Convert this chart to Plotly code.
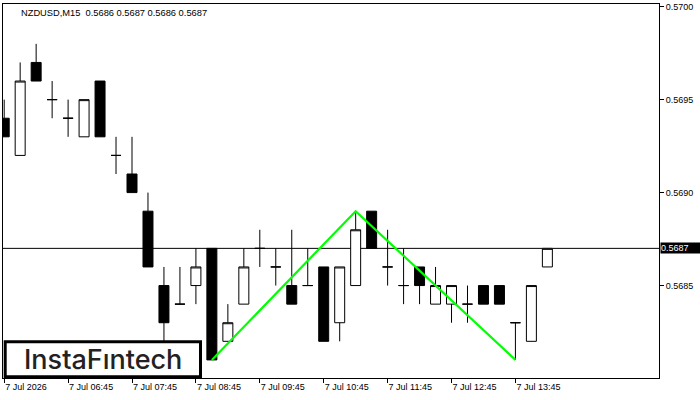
import plotly.graph_objects as go

# ---- data (NZDUSD, M15) ----
idx = list(range(35))
open_ = [0.5694, 0.5692, 0.5697, 0.5695, 0.5694, 0.5693, 0.5696, 0.5692, 0.5691, 0.5689,
         0.5685, 0.5684, 0.5685, 0.5687, 0.5682, 0.5684, 0.5687, 0.5686, 0.5685, 0.5685,
         0.5686, 0.5683, 0.5685, 0.5689, 0.5686, 0.5685, 0.5686, 0.5684, 0.5684, 0.5684,
         0.5685, 0.5685, 0.5683, 0.5682, 0.5686]
high = [0.5695, 0.5697, 0.5698, 0.5696, 0.5695, 0.5695, 0.5696, 0.5693, 0.5693, 0.5690,
        0.5686, 0.5686, 0.5687, 0.5687, 0.5684, 0.5687, 0.5688, 0.5687, 0.5688, 0.5687,
        0.5686, 0.5686, 0.5689, 0.5689, 0.5688, 0.5687, 0.5686, 0.5686, 0.5685, 0.5685,
        0.5685, 0.5685, 0.5683, 0.5685, 0.5687]
low = [0.5693, 0.5692, 0.5696, 0.5694, 0.5693, 0.5693, 0.5693, 0.5691, 0.5690, 0.5686,
       0.5682, 0.5684, 0.5684, 0.5681, 0.5682, 0.5684, 0.5686, 0.5685, 0.5684, 0.5685,
       0.5682, 0.5682, 0.5685, 0.5687, 0.5685, 0.5684, 0.5684, 0.5684, 0.5683, 0.5683,
       0.5684, 0.5684, 0.5681, 0.5682, 0.5686]
close = [0.5693, 0.5696, 0.5696, 0.5695, 0.5694, 0.5695, 0.5693, 0.5692, 0.5690, 0.5686,
         0.5683, 0.5684, 0.5686, 0.5681, 0.5683, 0.5686, 0.5687, 0.5686, 0.5684, 0.5685,
         0.5682, 0.5686, 0.5688, 0.5687, 0.5686, 0.5685, 0.5685, 0.5685, 0.5685, 0.5684,
         0.5684, 0.5684, 0.5683, 0.5685, 0.5687]

tick_idx = [0, 4, 8, 12, 16, 20, 24, 28, 32]
tick_labels = ["7 Jul 2026", "7 Jul 06:45", "7 Jul 07:45", "7 Jul 08:45", "7 Jul 09:45",
               "7 Jul 10:45", "7 Jul 11:45", "7 Jul 12:45", "7 Jul 13:45"]
price_ticks = [0.5685, 0.5690, 0.5695, 0.5700]
price_labels = ["0.5685", "0.5690", "0.5695", "0.5700"]

pattern_x = [13, 22, 32]
pattern_y = [0.5681, 0.5689, 0.5681]

last_price = 0.5687
title_text = "NZDUSD,M15  0.5686 0.5687 0.5686 0.5687"

W, H = 700, 400
ML, MR, MT, MB = 2, 41, 2, 22
PW, PH = W - ML - MR, H - MT - MB

FONT = "Liberation Sans"

fig = go.Figure()
fig.add_trace(go.Candlestick(
    x=idx, open=open_, high=high, low=low, close=close,
    increasing=dict(line=dict(color="black", width=1), fillcolor="white"),
    decreasing=dict(line=dict(color="black", width=1), fillcolor="black"),
    whiskerwidth=0, hoverinfo="skip", showlegend=False,
))
fig.add_trace(go.Scatter(
    x=pattern_x, y=pattern_y, mode="lines",
    line=dict(color="#00ff00", width=2.2), hoverinfo="skip", showlegend=False,
))

def px_x(p):
    return (p - ML) / PW

def px_y(p):
    return (H - MB - p) / PH

shapes = [
    dict(type="line", xref="paper", yref="y", x0=0, x1=1, y0=last_price, y1=last_price,
         line=dict(color="black", width=1), layer="below"),
    dict(type="rect", xref="paper", yref="paper",
         x0=px_x(4.2), x1=px_x(199.8), y0=px_y(376.8), y1=px_y(341.5),
         line=dict(color="black", width=3), fillcolor="white", layer="above"),
]

annotations = [
    dict(xref="paper", yref="paper", x=px_x(18), y=px_y(11), xanchor="left", yanchor="middle",
         text=title_text, showarrow=False, font=dict(family=FONT, size=9.3, color="black")),
    dict(xref="paper", yref="paper", x=px_x(102), y=px_y(359), xanchor="center", yanchor="middle",
         text="InstaFıntech", showarrow=False,
         font=dict(family="Inter", size=27, color="#222222", weight=500)),
    dict(xref="paper", yref="y", x=1, y=last_price, xanchor="left", yanchor="middle",
         xshift=1, text="0.5687", showarrow=False, bgcolor="black",
         width=40, height=10, align="left", borderpad=0,
         font=dict(family=FONT, size=9, color="white")),
]

x0 = -(3.2 - ML) / 16.0
fig.update_layout(
    width=W, height=H,
    margin=dict(l=ML, r=MR, t=MT, b=MB, pad=0),
    paper_bgcolor="white", plot_bgcolor="white",
    boxgap=0.375, boxgroupgap=0,
    shapes=shapes, annotations=annotations,
    showlegend=False,
    xaxis=dict(
        range=[x0, x0 + PW / 16.0], rangeslider=dict(visible=False),
        showgrid=False, zeroline=False,
        showline=True, mirror=True, linecolor="black", linewidth=1,
        tickmode="array", tickvals=tick_idx, ticktext=tick_labels,
        ticks="outside", ticklen=4, tickcolor="black", tickwidth=1,
        ticklabelposition="outside right",
        tickfont=dict(family=FONT, size=9, color="black"),
    ),
    yaxis=dict(
        range=[0.5680027, 0.5700144], side="right",
        showgrid=False, zeroline=False,
        showline=True, mirror=True, linecolor="black", linewidth=1,
        tickmode="array", tickvals=price_ticks, ticktext=price_labels,
        ticks="outside", ticklen=4, tickcolor="black", tickwidth=1,
        ticklabeloverflow="allow",
        tickfont=dict(family=FONT, size=9, color="black"),
    ),
)

fig.write_html("out.html")
